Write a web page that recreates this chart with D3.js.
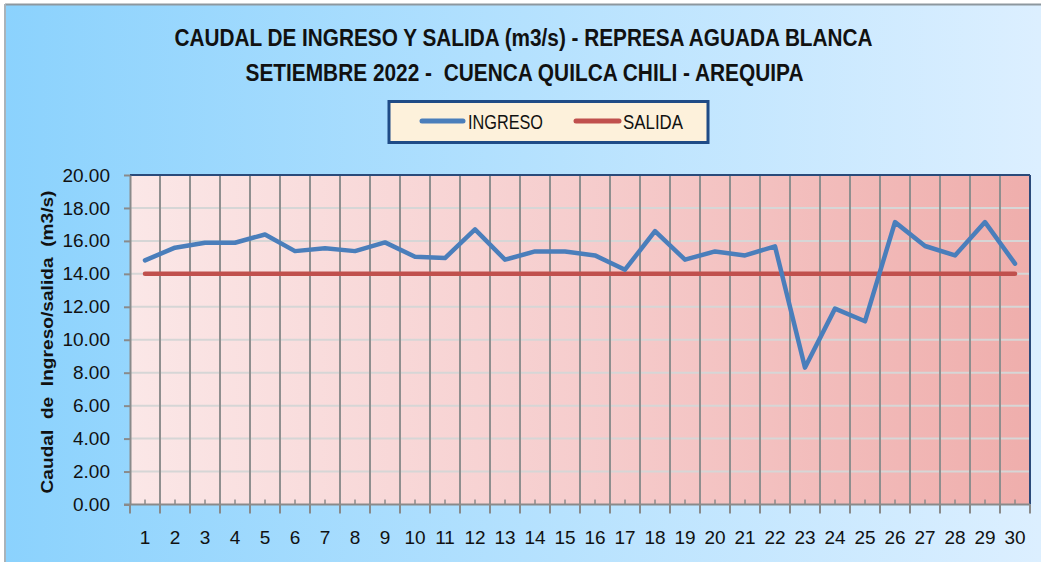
<!DOCTYPE html>
<html><head><meta charset="utf-8">
<script src="https://cdn.jsdelivr.net/npm/d3@7"></script>
<style>
html,body{margin:0;padding:0;background:#fff;}
svg{display:block;}
</style></head>
<body>
<svg id="chart" width="1041" height="562"></svg>
<script>
const days = ["1","2","3","4","5","6","7","8","9","10","11","12","13","14","15","16","17","18","19","20","21","22","23","24","25","26","27","28","29","30"];
const ingreso = [14.82,15.59,15.89,15.89,16.39,15.38,15.56,15.38,15.91,15.04,14.96,16.70,14.86,15.36,15.36,15.12,14.25,16.60,14.86,15.36,15.12,15.67,8.31,11.89,11.12,17.14,15.69,15.12,17.14,14.62];
const salida = [14.00,14.00,14.00,14.00,14.00,14.00,14.00,14.00,14.00,14.00,14.00,14.00,14.00,14.00,14.00,14.00,14.00,14.00,14.00,14.00,14.00,14.00,14.00,14.00,14.00,14.00,14.00,14.00,14.00,14.00];
const yTicks = [0,2,4,6,8,10,12,14,16,18,20];
const titleLines = ["CAUDAL DE INGRESO Y SALIDA (m3/s) - REPRESA AGUADA BLANCA","SETIEMBRE 2022 -  CUENCA QUILCA CHILI - AREQUIPA"];
const yTitle = "Caudal  de  Ingreso/salida  (m3/s)";
const seriesNames = ["INGRESO","SALIDA"];

const svg = d3.select("#chart");
const defs = svg.append("defs");
const og = defs.append("linearGradient").attr("id","outerG").attr("x1","0").attr("x2","1").attr("y1","0").attr("y2","0");
og.append("stop").attr("offset","0").attr("stop-color","#8bd2fd");
og.append("stop").attr("offset","0.5").attr("stop-color","#b4e1fe");
og.append("stop").attr("offset","1").attr("stop-color","#dcefff");
const pg = defs.append("linearGradient").attr("id","plotG").attr("x1","0").attr("x2","1").attr("y1","0").attr("y2","0");
pg.append("stop").attr("offset","0").attr("stop-color","#fbe7e7");
pg.append("stop").attr("offset","0.5").attr("stop-color","#f6cdcd");
pg.append("stop").attr("offset","1").attr("stop-color","#efaeac");

// outer background
svg.append("rect").attr("x",5).attr("y",4).attr("width",1036).attr("height",558).attr("fill","url(#outerG)");
svg.append("line").attr("x1",5).attr("x2",1041).attr("y1",4.5).attr("y2",4.5).attr("stroke","#8d979e").attr("stroke-width",2);
svg.append("line").attr("x1",5).attr("x2",5).attr("y1",4).attr("y2",562).attr("stroke","#a9b3ba").attr("stroke-width",2);

const L=130,R=1030,T=175,B=504.5;
const x = d3.scaleBand().domain(days).range([L,R]).padding(0);
const y = d3.scaleLinear().domain([0,20]).range([B,T]);

svg.append("rect").attr("x",L).attr("y",T).attr("width",R-L).attr("height",B-T).attr("fill","url(#plotG)");

// horizontal gridlines
svg.append("g").selectAll("line").data(yTicks.filter(d=>d>0 && d<20)).join("line")
  .attr("x1",L).attr("x2",R).attr("y1",d=>y(d)).attr("y2",d=>y(d))
  .attr("stroke","#d6d6d6").attr("stroke-width",2);

// vertical gridlines at band boundaries
const bounds = days.map(d=>x(d)).concat([x(days[days.length-1])+x.bandwidth()]);
svg.append("g").selectAll("line").data(bounds.slice(1,-1)).join("line")
  .attr("x1",d=>d).attr("x2",d=>d).attr("y1",T).attr("y2",B)
  .attr("stroke","#8f8f8f").attr("stroke-width",2);

// borders top/right
svg.append("line").attr("x1",L).attr("x2",R).attr("y1",T).attr("y2",T).attr("stroke","#2a4a7a").attr("stroke-width",2);
svg.append("line").attr("x1",R).attr("x2",R).attr("y1",T).attr("y2",B).attr("stroke","#2a4a7a").attr("stroke-width",2);

// y axis
const yAxis = svg.append("g").attr("transform",`translate(${L},0)`)
  .call(d3.axisLeft(y).tickValues(yTicks).tickFormat(d3.format(".2f")).tickSize(6).tickSizeOuter(0).tickPadding(14));
yAxis.select(".domain").attr("stroke","#8a8a8a").attr("stroke-width",2);
yAxis.selectAll(".tick line").attr("stroke","#8a8a8a").attr("stroke-width",2);
yAxis.selectAll("text").attr("font-family","Liberation Sans, Arial, sans-serif").attr("font-size",19).attr("fill","#111");

// x axis labels
const xAxis = svg.append("g").attr("transform",`translate(0,${B})`)
  .call(d3.axisBottom(x).tickSize(0).tickSizeOuter(0).tickPadding(26));
xAxis.select(".domain").remove();
xAxis.selectAll("text").attr("font-family","Liberation Sans, Arial, sans-serif").attr("font-size",19).attr("fill","#111");
svg.append("line").attr("x1",L-6).attr("x2",R).attr("y1",B).attr("y2",B).attr("stroke","#8a8a8a").attr("stroke-width",2);
// major ticks at boundaries (outside)
svg.append("g").selectAll("line").data(bounds).join("line")
  .attr("x1",d=>d).attr("x2",d=>d).attr("y1",B).attr("y2",B+9)
  .attr("stroke","#8a8a8a").attr("stroke-width",2);
// minor ticks at centers (inside)
svg.append("g").selectAll("line").data(days).join("line")
  .attr("x1",d=>x(d)+x.bandwidth()/2).attr("x2",d=>x(d)+x.bandwidth()/2).attr("y1",B).attr("y2",B-5)
  .attr("stroke","#8a8a8a").attr("stroke-width",1.5);

// lines
const lineGen = d3.line().x((d,i)=>x(days[i])+x.bandwidth()/2).y(d=>y(d));
svg.append("path").datum(salida).attr("d",lineGen).attr("fill","none").attr("stroke","#c0504d").attr("stroke-width",4.5).attr("stroke-linecap","round");
svg.append("path").datum(ingreso).attr("d",lineGen).attr("fill","none").attr("stroke","#4a7ebb").attr("stroke-width",4.5).attr("stroke-linecap","round").attr("stroke-linejoin","round");

// title
const tl = [{t:titleLines[0],y:46,len:698,cx:523.5},{t:titleLines[1],y:81,len:558,cx:524.5}];
svg.append("g").selectAll("text").data(tl).join("text")
  .attr("x",d=>d.cx).attr("y",d=>d.y).attr("text-anchor","middle")
  .attr("font-family","Liberation Sans, Arial, sans-serif").attr("font-weight","bold").attr("font-size",23)
  .attr("fill","#111").attr("textLength",d=>d.len).attr("lengthAdjust","spacingAndGlyphs")
  .style("white-space","pre")
  .text(d=>d.t);

// y title
svg.append("text").attr("transform","translate(53,342) rotate(-90)").attr("text-anchor","middle")
  .attr("font-family","Liberation Sans, Arial, sans-serif").attr("font-weight","bold").attr("font-size",17)
  .attr("fill","#111").attr("textLength",303).attr("lengthAdjust","spacingAndGlyphs").style("white-space","pre")
  .text(yTitle);

// legend
const lg = svg.append("g");
lg.append("rect").attr("x",389).attr("y",101.5).attr("width",319).attr("height",41).attr("fill","#fdf1db").attr("stroke","#1f4b86").attr("stroke-width",3);
const legItems = [{name:seriesNames[0],c:"#4a7ebb",x1:422,x2:463,tx:468,len:75},{name:seriesNames[1],c:"#c0504d",x1:576,x2:619,tx:623,len:60}];
legItems.forEach(it=>{
  lg.append("line").attr("x1",it.x1).attr("x2",it.x2).attr("y1",121).attr("y2",121).attr("stroke",it.c).attr("stroke-width",5).attr("stroke-linecap","round");
  lg.append("text").attr("x",it.tx).attr("y",128.5).attr("font-family","Liberation Sans, Arial, sans-serif").attr("font-size",20)
    .attr("fill","#111").attr("textLength",it.len).attr("lengthAdjust","spacingAndGlyphs").text(it.name);
});
</script>
</body></html>
